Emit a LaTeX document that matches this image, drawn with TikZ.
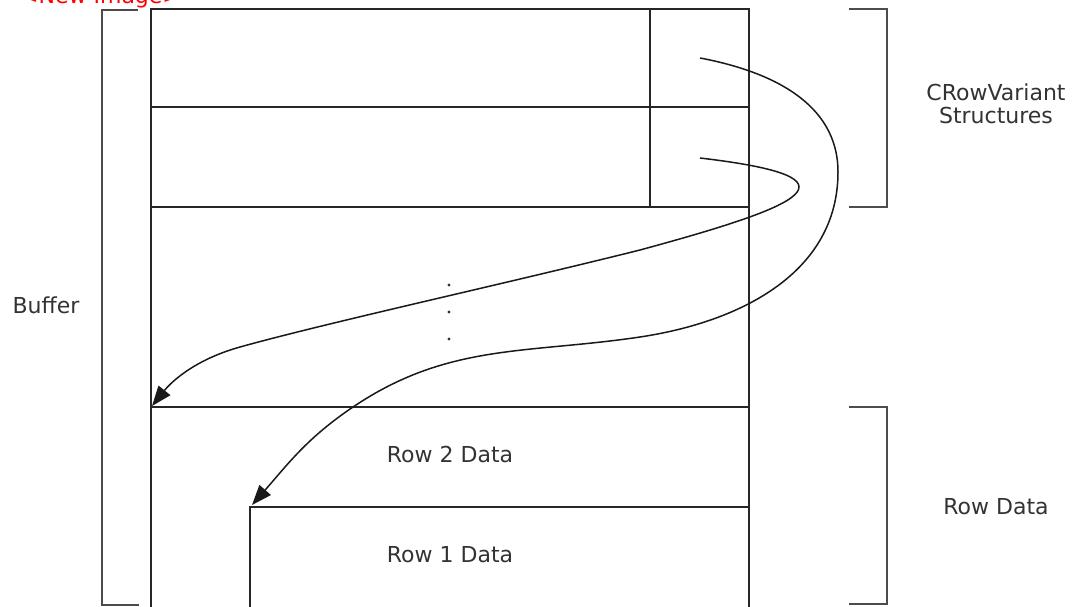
\documentclass[tikz,border=0pt]{standalone}
\usepackage{fontspec}
\setmainfont{DejaVu Sans}
\usetikzlibrary{arrows.meta}
\begin{document}
\begin{tikzpicture}[x=1pt,y=-1pt,
  ln/.style={line width=1.9pt, draw=black!85},
  brk/.style={line width=1.9pt, draw=black!70},
  lbl/.style={font=\fontsize{22}{23}\selectfont, text=black!80, align=center, inner sep=0pt},
  conn/.style={line width=1.5pt, draw=black!90, -{Triangle[length=20pt,width=15pt]}},
  dotmark/.style={fill=black!80}]
\useasboundingbox (0,0) rectangle (1072,607);
\clip (0,0) rectangle (1072,607);
% red header (cut off at the top, as in the reference)
\node[anchor=base west, text=red, font=\fontsize{22}{23}\selectfont, inner sep=0pt] (newimg) at (20,3.5) {<New Image>};
% main buffer box
\draw[ln] (151,609) -- (151,9) -- (749,9) -- (749,609);
\draw[ln] (151,107) -- (749,107);
\draw[ln] (151,207) -- (749,207);
\draw[ln] (650,9) -- (650,207);
\draw[ln] (151,407) -- (749,407);
\draw[ln] (250,609) -- (250,507) -- (749,507);
% brackets
\draw[brk] (138,10) -- (102,10) -- (102,605) -- (139,605);
\draw[brk] (849,9) -- (887,9) -- (887,207) -- (849,207);
\draw[brk] (849,407) -- (887,407) -- (887,604) -- (849,604);
% dots
\fill[dotmark] (449,285) circle (1.6);
\fill[dotmark] (449,312) circle (1.6);
\fill[dotmark] (449,339) circle (1.6);
% labels
\node[lbl] (buf) at (46,305) {Buffer};
\node[lbl] (crv) at (996,104) {CRowVariant\\Structures};
\node[lbl] (r2) at (450,454) {Row 2 Data};
\node[lbl] (r1) at (450,555) {Row 1 Data};
\node[lbl] (rd) at (996,507) {Row Data};
% connector coordinates
\coordinate (s1) at (700,58);
\coordinate (p1) at (838,172);
\coordinate (q1) at (640,337);
\coordinate (u1) at (353,407);
\coordinate (e1) at (252,505);
\coordinate (s2) at (700,158);
\coordinate (p2) at (640,250);
\coordinate (q2) at (240,347);
\coordinate (e2) at (152,406);
% connectors
\draw[conn] (s1) .. controls (769,71) and (838,102) .. (p1)
  .. controls (838,273) and (740,322) .. (q1)
  .. controls (526,354) and (448,343) .. (u1)
  .. controls (307,438) and (288,464) .. (e1);
\draw[conn] (s2) .. controls (870,178) and (802,206) .. (p2)
  .. controls (500,285) and (330,322) .. (q2)
  .. controls (190,361) and (168,386) .. (e2);
\end{tikzpicture}
\end{document}
